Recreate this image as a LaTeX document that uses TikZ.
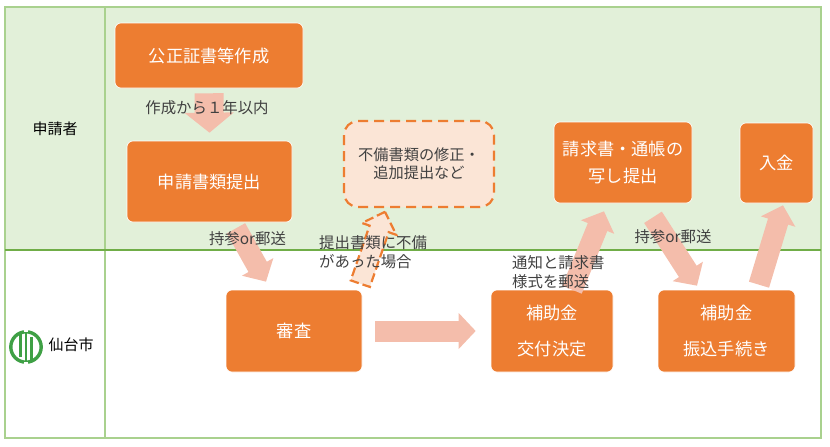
\documentclass[tikz,border=0pt]{standalone}
\usepackage{fontspec}
\setmainfont{Noto Sans CJK JP}
\usetikzlibrary{arrows.meta, shapes.arrows}
\definecolor{bandgreen}{HTML}{E2F0D9}
\definecolor{linegreen}{HTML}{A9D18E}
\definecolor{darkgreen}{HTML}{70AD47}
\definecolor{logogreen}{HTML}{3FA045}
\definecolor{boxorange}{HTML}{ED7D31}
\definecolor{palepink}{HTML}{F4BDAB}
\definecolor{paleorange}{HTML}{FBE5D6}
\definecolor{labelgray}{HTML}{404040}
\tikzset{
  stepbox/.style={rectangle, rounded corners=6pt, fill=boxorange, draw=white, line width=0.6pt,
    text=white, font=\fontsize{17.2}{27}\selectfont, align=center, inner sep=0pt},
  flow/.style={draw=palepink, line width=21pt, -{Triangle[length=17pt, width=35pt]}},
  flowwide/.style={draw=palepink, line width=29pt, -{Triangle[length=20pt, width=48pt]}},
  label/.style={text=labelgray, font=\fontsize{15.4}{19}\selectfont, align=left, inner sep=0pt},
  rowname/.style={text=black, font=\fontsize{15}{18}\selectfont, inner sep=0pt},
}
\begin{document}
\begin{tikzpicture}[x=1pt, y=-1pt]
    \useasboundingbox (0,0) rectangle (830,447);
    % table
    \fill[bandgreen] (5,7) rectangle (821,250);
    \draw[linegreen, line width=1.2pt] (5,7) rectangle (821,438);
    \draw[linegreen, line width=1.2pt] (105,7) -- (105,438);
    \draw[darkgreen, line width=1.4pt] (5,250) -- (821,250);
    \node[rowname] (applicant) at (55,129) {申請者};
    \node[rowname] (city) at (71,345) {仙台市};
    % logo
    \draw[logogreen, line width=3.4pt] (26,347) circle (15.2);
    \draw[logogreen, line width=2.2pt] (20.5,334) -- (20.5,357);
    \draw[logogreen, line width=2.2pt] (26,333) -- (26,361);
    \draw[logogreen, line width=2.2pt] (31.5,337) -- (31.5,360);
    \fill[white] (24.4,362) rectangle (27.6,364);
    \fill[white] (24.4,330) rectangle (27.6,332);
    % boxes
    \node[stepbox, minimum width=188pt, minimum height=65pt] (notary) at (209,55.5) {公正証書等作成};
    \node[stepbox, minimum width=165pt, minimum height=81pt] (apply) at (209.5,181.5) {申請書類提出};
    \node[stepbox, minimum width=138pt, minimum height=81pt] (invoice) at (623,162.5) {請求書・通帳の\\写し提出};
    \node[stepbox, minimum width=73pt, minimum height=80pt] (receipt) at (776.5,163) {入金};
    \node[stepbox, minimum width=136pt, minimum height=82pt] (review) at (294,331) {審査};
    \node[stepbox, minimum width=122pt, minimum height=82pt] (grant) at (552,331) {補助金\\[9pt]交付決定};
    \node[stepbox, minimum width=137pt, minimum height=82pt] (transfer) at (726.5,331) {補助金\\[9pt]振込手続き};
    \node[rectangle, rounded corners=14pt, fill=paleorange, draw=boxorange, line width=2.2pt,
      dash pattern=on 10pt off 6pt, minimum width=150pt, minimum height=86pt,
      text=labelgray, font=\fontsize{15.2}{18}\selectfont, align=center, inner sep=0pt] (fix) at (419,164) {不備書類の修正・\\追加提出など};
    % arrows
    \draw[flowwide] ([yshift=-5]notary.south) -- ([yshift=8]apply.north);
    \draw[flow] ([xshift=26.5,yshift=-6]apply.south) -- ([xshift=-28,yshift=8]review.north);
    \draw[flow] ([xshift=13]review.east) -- ([xshift=-15]grant.west);
    \draw[flow] ([xshift=20]grant.north) -- ([xshift=-19,yshift=-8]invoice.south);
    \draw[flow] ([xshift=30,yshift=-14]invoice.south) -- ([xshift=-29.5,yshift=4]transfer.north);
    \draw[flow] ([xshift=32.5,yshift=5]transfer.north) -- ([xshift=6.5,yshift=-2]receipt.south);
    \node[single arrow, rotate=71, minimum height=76pt, single arrow head extend=8pt, inner xsep=0pt, inner ysep=9pt,
      fill=paleorange, draw=boxorange, line width=2.2pt, dash pattern=on 9pt off 4pt] (lack) at (371,252.5) {};
    % labels
    \node[label] (term) at (207,108) {作成から１年以内};
    \node[label] (carry) at (247.5,239) {持参or郵送};
    \node[label, anchor=north west] (defect) at (319,235) {提出書類に不備\\があった場合};
    \node[label, anchor=north west] (notice) at (512,255) {通知と請求書\\様式を郵送};
    \node[label] (carrytwo) at (673,237) {持参or郵送};
\end{tikzpicture}
\end{document}
